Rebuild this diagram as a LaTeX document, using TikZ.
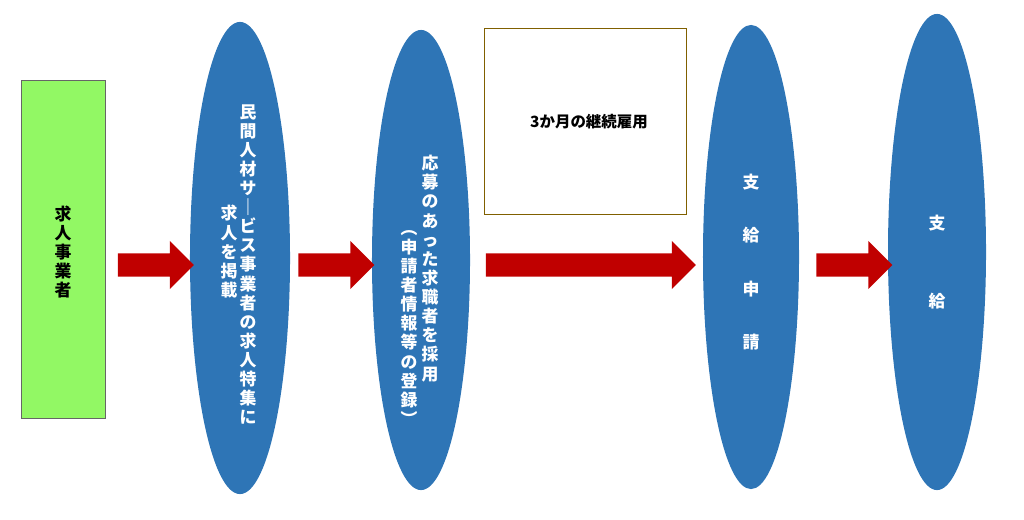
\documentclass[tikz,border=0pt]{standalone}
\usepackage{fontspec}
\newfontfamily\jp{Noto Sans CJK JP}
\usetikzlibrary{shapes.geometric, shapes.arrows, positioning}
\definecolor{stepblue}{RGB}{46,117,182}
\definecolor{arrowred}{RGB}{192,0,0}
\definecolor{boxbrown}{RGB}{128,96,0}
\definecolor{startgreen}{RGB}{146,248,100}
\begin{document}
\begin{tikzpicture}[x=0.025cm, y=-0.025cm,
    % Step ellipse
    stepell/.style={
        ellipse,
        fill=stepblue,
        draw=none,
        inner sep=0pt
    },
    % Vertical text
    vtext/.style={
        text=white,
        font=\jp\bfseries\fontsize{12}{13.6}\selectfont,
        align=center,
        inner sep=0pt
    },
    % Red block arrow
    redarrow/.style={
        single arrow,
        fill=arrowred,
        draw=none,
        minimum height=#1,
        minimum width=1.2cm,
        single arrow head extend=0.2cm,
        inner sep=0.18cm
    }
]
\useasboundingbox (0,0) rectangle (1024,519);

% === Start box ===
\node[draw=black!60, fill=startgreen, minimum width=2.1cm, minimum height=8.45cm] (employer) at (63,249) {};
\node[vtext, text=black] (employertxt) at (63,252) {求\\人\\事\\業\\者};

% === Ellipses ===
\node[stepell, minimum width=2.5cm, minimum height=11.8cm] (post) at (240,258) {};
\node[stepell, minimum width=2.45cm, minimum height=11.5cm] (hire) at (421,260) {};
\node[stepell, minimum width=2.4cm, minimum height=11.6cm] (apply) at (751,257) {};
\node[stepell, minimum width=2.45cm, minimum height=11.9cm] (pay) at (937,252) {};

% === Texts in ellipses ===
\node[vtext, anchor=north] (posta) at (248,104) {民\\間\\人\\材\\サ\\｜\\ビ\\ス\\事\\業\\者\\の\\求\\人\\特\\集\\に};
\node[vtext, anchor=north] (postb) at (229,205) {求\\人\\を\\掲\\載};
\node[vtext, anchor=north] (hirea) at (430,155) {応\\募\\の\\あ\\っ\\た\\求\\職\\者\\を\\採\\用};
\node[vtext, anchor=north] (hireb) at (409,230) {︵\\申\\請\\者\\情\\報\\等\\の\\登\\録\\︶};
\node[vtext, font=\jp\bfseries\fontsize{12}{38}\selectfont] (applytxt) at (751,262) {支\\給\\申\\請};
\node[vtext, font=\jp\bfseries\fontsize{12}{55}\selectfont] (paytxt) at (937,262) {支\\給};

% === Period box ===
\node[draw=boxbrown, line width=1.2pt, fill=white, minimum width=5.05cm, minimum height=4.65cm] (period) at (585.5,121.5) {};
\node[font=\jp\bfseries\fontsize{11}{13}\selectfont] (periodtxt) at (589,122) {3か月の継続雇用};

% === Arrows ===
\node[redarrow=1.9cm] (a1) at (150,265) {};
\node[redarrow=1.9cm] (a2) at (330.5,265) {};
\node[redarrow=5.25cm] (a3) at (585,265) {};
\node[redarrow=1.9cm] (a4) at (848.5,265) {};

\end{tikzpicture}
\end{document}
